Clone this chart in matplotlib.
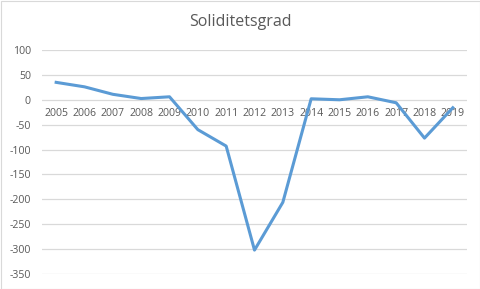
import matplotlib
matplotlib.use('Agg')
import matplotlib.pyplot as plt
from matplotlib.patches import Rectangle

years = ['2005', '2006', '2007', '2008', '2009', '2010', '2011', '2012',
         '2013', '2014', '2015', '2016', '2017', '2018', '2019']
values = [35, 26, 11, 2.5, 6, -60, -93, -302, -206, 2, 0, 6, -6, -77, -16]
yticks = [100, 50, 0, -50, -100, -150, -200, -250, -300, -350]

plt.rcParams['font.family'] = ['Open Sans', 'DejaVu Sans']
grey = '#595959'

fig = plt.figure(figsize=(4.81, 2.89), dpi=100)
ax = fig.add_axes([42 / 481, 15 / 289, 425 / 481, 224 / 289])

x = list(range(len(years)))
ax.plot(x, values, color='#5B9BD5', linewidth=2.2, solid_joinstyle='round', zorder=3)

ax.set_xlim(-0.5, len(years) - 0.5)
ax.set_ylim(-350, 100)
ax.set_yticks(yticks)
ax.set_yticklabels([str(t) for t in yticks])
ax.yaxis.grid(True, color='#D9D9D9', linewidth=0.9)
ax.set_axisbelow(True)

ax.set_xticks(x)
ax.set_xticklabels(years)
ax.spines['bottom'].set_position(('data', 0))
for s in ['top', 'right', 'left', 'bottom']:
    ax.spines[s].set_visible(False)
ax.tick_params(axis='both', length=0, labelsize=7.6, colors=grey)
ax.tick_params(axis='x', pad=6)
ax.tick_params(axis='y', pad=8)

fig.text(0.5, 1 - 22 / 289, 'Soliditetsgrad', ha='center', va='center',
         fontsize=11.5, color=grey)

fig.patches.append(Rectangle((0.5 / 481, 0.5 / 289), 479.5 / 481, 287.5 / 289,
                             transform=fig.transFigure, fill=False,
                             edgecolor='#D9D9D9', linewidth=0.8))

fig.savefig('out.png', dpi=100)
